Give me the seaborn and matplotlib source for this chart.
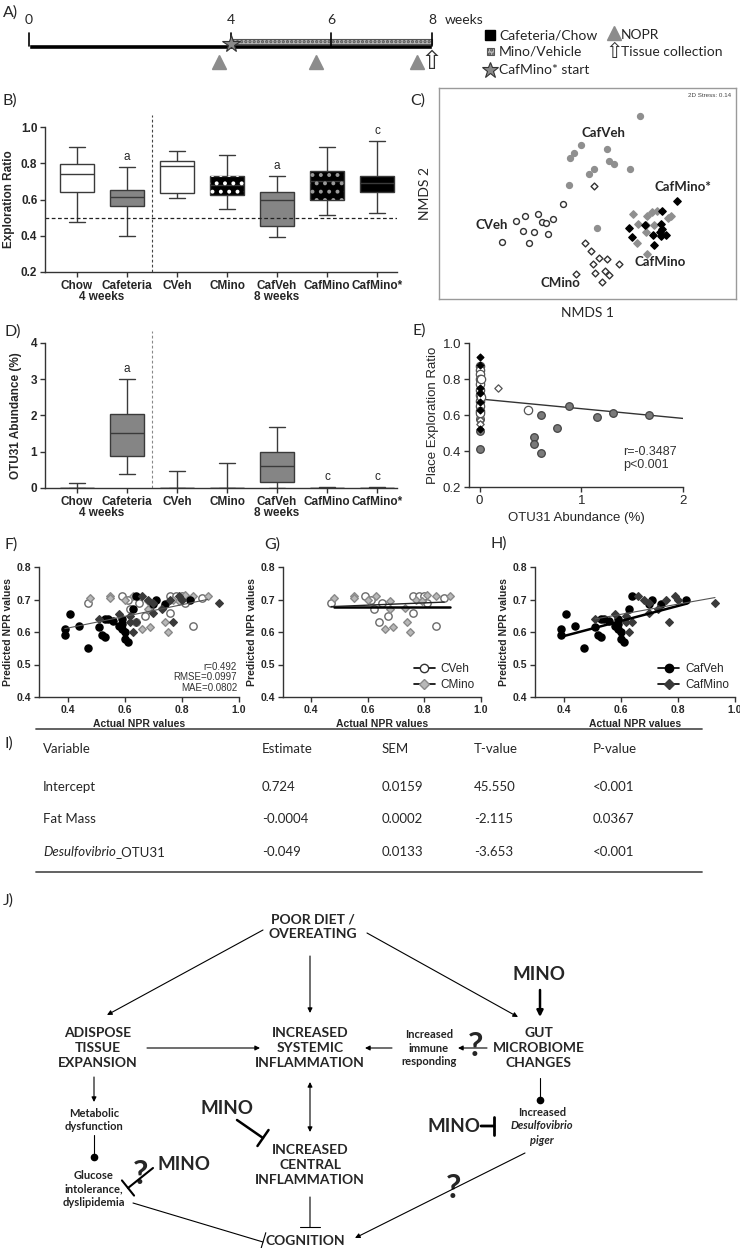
import numpy as np
import pandas as pd
import matplotlib
matplotlib.use("Agg")
import matplotlib.pyplot as plt
import seaborn as sns
from matplotlib.patches import PathPatch, Rectangle
from matplotlib.lines import Line2D
from matplotlib.patches import ArrowStyle

# ======================= DATA =======================
# A) study timeline (weeks)
week_ticks = [0, 4, 6, 8]
nopr_weeks = [3.77, 5.70, 7.70]
collection_week = 8.0
cafmino_start_week = 4.0
diet_span = [0, 8]
drug_span = [4, 8]

# B) exploration ratio: five-number summaries (min, Q1, median, Q3, max)
groups = ["Chow", "Cafeteria", "CVeh", "CMino", "CafVeh", "CafMino", "CafMino*"]
period_labels = ["4 weeks", "8 weeks"]
period_pos = [0.5, 4.0]
expl_min = [0.474, 0.400, 0.608, 0.549, 0.393, 0.513, 0.526]
expl_q1 = [0.641, 0.562, 0.636, 0.627, 0.456, 0.595, 0.641]
expl_med = [0.741, 0.614, 0.787, 0.680, 0.599, 0.700, 0.690]
expl_q3 = [0.796, 0.652, 0.814, 0.731, 0.641, 0.759, 0.731]
expl_max = [0.888, 0.779, 0.866, 0.847, 0.728, 0.888, 0.921]
expl_sig = ["", "a", "", "", "a", "", "c"]
chance_level = 0.5

# D) OTU31 abundance (%) five-number summaries
otu_min = [0.0, 0.38, 0.0, 0.0, 0.0, 0.0, 0.0]
otu_q1 = [0.0, 0.87, 0.0, 0.0, 0.16, 0.0, 0.0]
otu_med = [0.0, 1.51, 0.0, 0.0, 0.62, 0.0, 0.0]
otu_q3 = [0.01, 2.04, 0.01, 0.01, 1.00, 0.005, 0.005]
otu_max = [0.15, 3.00, 0.48, 0.70, 1.67, 0.02, 0.02]
otu_sig = ["", "a", "", "", "", "c", "c"]

# C) NMDS ordination
cveh_n1 = [-0.200, -0.325, -0.392, -0.437, -0.307, -0.288, -0.253, -0.400, -0.348, -0.277, -0.508, -0.373]
cveh_n2 = [0.080, 0.028, 0.022, -0.005, -0.012, -0.013, 0.005, -0.053, -0.060, -0.072, -0.108, -0.115]
cmino_n1 = [-0.047, -0.092, -0.062, -0.023, 0.020, -0.052, 0.078, -0.138, -0.043, 0.010, 0.030, -0.005]
cmino_n2 = [0.172, -0.117, -0.155, -0.192, -0.193, -0.222, -0.222, -0.268, -0.267, -0.257, -0.273, -0.312]
cafveh_n1 = [0.183, -0.112, -0.147, -0.168, 0.017, 0.028, 0.055, 0.132, -0.047, -0.070, -0.173, -0.030]
cafveh_n2 = [0.520, 0.377, 0.337, 0.312, 0.357, 0.293, 0.280, 0.253, 0.257, 0.232, 0.177, -0.040]
cafmino_n1 = [0.150, 0.217, 0.245, 0.268, 0.338, 0.322, 0.172, 0.215, 0.255, 0.213, 0.168, 0.218]
cafmino_n2 = [0.028, 0.020, 0.040, 0.047, 0.020, 0.012, -0.022, -0.025, -0.025, -0.062, -0.113, -0.170]
cafminos_n1 = [0.367, 0.292, 0.127, 0.210, 0.287, 0.295, 0.248, 0.290, 0.313, 0.143, 0.253, 0.283]
cafminos_n2 = [0.095, 0.045, -0.042, -0.025, -0.020, -0.045, -0.075, -0.082, -0.075, -0.083, -0.125, -0.058]
nmds_stress = 0.14

# E) OTU31 abundance vs place exploration ratio
e_cveh_x = [0, 0, 0, 0, 0, 0, 0, 0, 0, 0, 0, 0.016, 0.016, 0.475]
e_cveh_y = [0.87, 0.85, 0.83, 0.80, 0.77, 0.74, 0.71, 0.68, 0.65, 0.62, 0.61, 0.80, 0.70, 0.63]
e_cmino_x = [0, 0, 0, 0, 0, 0, 0, 0, 0.18]
e_cmino_y = [0.82, 0.79, 0.72, 0.69, 0.66, 0.60, 0.57, 0.55, 0.75]
e_cafveh_x = [0, 0, 0, 0.60, 0.534, 0.534, 0.60, 0.76, 0.875, 1.15, 1.31, 1.67]
e_cafveh_y = [0.41, 0.51, 0.58, 0.60, 0.48, 0.44, 0.39, 0.53, 0.65, 0.59, 0.61, 0.60]
e_cafmino_x = [0, 0, 0, 0]
e_cafmino_y = [0.78, 0.70, 0.64, 0.59]
e_cafminos_x = [0, 0, 0, 0, 0, 0, 0]
e_cafminos_y = [0.92, 0.88, 0.75, 0.72, 0.67, 0.63, 0.52]
e_fit_intercept = 0.689
e_fit_slope = -0.054
e_fit_range = [0.0, 2.0]
e_r = -0.3487

# F-H) actual vs predicted NPR values
npr_cafveh_act = [0.39, 0.39, 0.41, 0.44, 0.47, 0.51, 0.53, 0.54, 0.52, 0.53, 0.56, 0.58, 0.59, 0.59, 0.59, 0.60, 0.60, 0.61, 0.63, 0.64, 0.70, 0.71, 0.74, 0.83]
npr_cafveh_pred = [0.61, 0.59, 0.655, 0.62, 0.55, 0.615, 0.64, 0.64, 0.59, 0.585, 0.635, 0.62, 0.64, 0.625, 0.61, 0.60, 0.58, 0.57, 0.67, 0.71, 0.685, 0.70, 0.685, 0.70]
npr_cafmino_act = [0.51, 0.58, 0.62, 0.62, 0.63, 0.64, 0.66, 0.68, 0.70, 0.70, 0.73, 0.76, 0.77, 0.79, 0.80, 0.93]
npr_cafmino_pred = [0.64, 0.655, 0.65, 0.63, 0.60, 0.63, 0.71, 0.70, 0.66, 0.69, 0.67, 0.70, 0.63, 0.71, 0.70, 0.69]
npr_cveh_act = [0.47, 0.59, 0.61, 0.62, 0.65, 0.64, 0.67, 0.76, 0.76, 0.78, 0.80, 0.81, 0.84, 0.87]
npr_cveh_pred = [0.69, 0.71, 0.70, 0.67, 0.69, 0.63, 0.65, 0.66, 0.71, 0.71, 0.71, 0.69, 0.62, 0.705]
npr_cmino_act = [0.48, 0.55, 0.55, 0.60, 0.63, 0.66, 0.68, 0.68, 0.69, 0.73, 0.74, 0.75, 0.77, 0.79, 0.81, 0.84, 0.89]
npr_cmino_pred = [0.705, 0.71, 0.705, 0.70, 0.71, 0.61, 0.695, 0.67, 0.615, 0.675, 0.63, 0.60, 0.70, 0.695, 0.715, 0.71, 0.71]
fit_all = [0.54, 0.18, 0.39, 0.89]        # intercept, slope, x from, x to
fit_cveh = [0.6616, 0.035, 0.47, 0.87]
fit_cmino = [0.678, 0.0, 0.48, 0.89]
fit_cafveh = [0.4945, 0.232, 0.39, 0.83]
fit_cafmino = [0.56, 0.157, 0.51, 0.93]
npr_r, npr_rmse, npr_mae = 0.492, 0.0997, 0.0802

# I) regression table
table_cols = ["Variable", "Estimate", "SEM", "T-value", "P-value"]
table_vars = ["Intercept", "Fat Mass", "Desulfovibrio_OTU31"]
table_est = ["0.724", "-0.0004", "-0.049"]
table_sem = ["0.0159", "0.0002", "0.0133"]
table_t = ["45.550", "-2.115", "-3.653"]
table_p = ["<0.001", "0.0367", "<0.001"]

# ======================= STYLE =======================
sns.set_theme(style="ticks")
ARIAL = ["Liberation Sans", "DejaVu Sans"]
CALI = ["Lato", "DejaVu Sans"]
plt.rcParams["font.family"] = ARIAL
plt.rcParams["hatch.linewidth"] = 1.6
plt.rcParams["axes.linewidth"] = 1.0
plt.rcParams["axes.edgecolor"] = "#333333"

W, H = 740, 1248
fig = plt.figure(figsize=(W / 100, H / 100), dpi=100)
fig.patch.set_facecolor("white")


def axes_px(x0, y0, x1, y1):
    return fig.add_axes([x0 / W, 1 - y1 / H, (x1 - x0) / W, (y1 - y0) / H])


def style_axes(ax, size=8, bold=True):
    sns.despine(ax=ax)
    ax.tick_params(direction="out", length=3.5, width=1, color="#333333",
                   labelsize=size, pad=2)
    for lab in ax.get_xticklabels() + ax.get_yticklabels():
        lab.set_fontweight("bold" if bold else "normal")


box_fill = {"Chow": "white", "Cafeteria": "#858585", "CVeh": "white", "CMino": "black",
            "CafVeh": "#858585", "CafMino": "black", "CafMino*": "black"}
dot_hatch = {"CMino": "white", "CafMino": "#9a9a9a"}


def draw_box(ax, mins, q1s, meds, q3s, maxs, hatch=True):
    df = pd.DataFrame({
        "group": np.repeat(groups, 5),
        "value": np.column_stack([mins, q1s, meds, q3s, maxs]).ravel(),
    })
    sns.boxplot(data=df, x="group", y="value", hue="group", order=groups, hue_order=groups,
                palette=box_fill, saturation=1, whis=(0, 100), width=0.67,
                linewidth=1.0, linecolor="#3a3a3a", fliersize=0, legend=False, ax=ax)
    if hatch:
        for g, p in zip(groups, list(ax.patches)):
            if g in dot_hatch:
                ovp = PathPatch(p.get_path(), transform=p.get_transform(), facecolor="none",
                                edgecolor=dot_hatch[g], hatch="..", linewidth=0, zorder=p.get_zorder() + 0.1)
                ax.add_patch(ovp)
    ax.set_xlim(-0.64, 6.4)
    ax.set_xlabel("")
    ax.axvline(1.5, ymin=0, ymax=1.08, clip_on=False, color="#444444", lw=0.8, ls=(0, (2.5, 2)))


# ---------------- A) timeline ----------------
axA = axes_px(0, 0, 740, 90)
axA.set_xlim(-29 / 50.375, (740 - 29) / 50.375)
axA.set_ylim(90, 0)
axA.axis("off")
axA.barh(46.5, diet_span[1] - diet_span[0], left=diet_span[0], height=4.5, color="black")
axA.barh(41.5, drug_span[1] - drug_span[0], left=drug_span[0], height=5.0,
         facecolor="#b9b9b9", edgecolor="#555555", hatch="....", linewidth=0.8)
for w in week_ticks:
    axA.plot([w, w], [33, 46], color="black", lw=1.2)
    axA.text(w, 20, str(w), ha="center", va="center", fontsize=10, family=CALI)
axA.text(week_ticks[-1] + 0.25, 20, "weeks", ha="left", va="center", fontsize=10, family=CALI)
axA.plot([cafmino_start_week], [44], marker="*", ms=13, mfc="#8a8a8a", mec="#333333", mew=0.8)
axA.plot(nopr_weeks, [62] * len(nopr_weeks), ls="none", marker="^", ms=10, color="#8c8c8c")
axA.text(collection_week, 62, "\u21e7", ha="center", va="center", fontsize=19,
         family=["DejaVu Sans"], color="#333333")

# ---------------- overlay (labels, legend, table, diagram) ----------------
ov = axes_px(0, 0, 740, 1248)
ov.set_xlim(0, 740)
ov.set_ylim(1248, 0)
ov.axis("off")

# A legend
ov.plot([490], [35], marker="s", ms=7, color="black")
ov.text(499, 35, "Cafeteria/Chow", va="center", fontsize=10, family=CALI)
ov.add_patch(Rectangle((486.5, 48), 7, 7, facecolor="#b9b9b9", edgecolor="#555555",
                       hatch="....", linewidth=0.8))
ov.text(499, 52, "Mino/Vehicle", va="center", fontsize=10, family=CALI)
ov.plot([490], [70], marker="*", ms=12, mfc="#8a8a8a", mec="#333333", mew=0.8)
ov.text(499, 70, "CafMino* start", va="center", fontsize=10, family=CALI)
ov.plot([614], [33], marker="^", ms=10, color="#8c8c8c")
ov.text(621, 35, "NOPR", va="center", fontsize=10, family=CALI)
ov.text(614, 52, "\u21e7", ha="center", va="center", fontsize=15, family=["DejaVu Sans"], color="#333333")
ov.text(621, 52, "Tissue collection", va="center", fontsize=10, family=CALI)

# panel letters
for lab, x, y in [("A)", 3, 13), ("B)", 3, 101), ("C)", 410, 101), ("D)", 4, 332),
                  ("E)", 412, 331), ("F)", 4, 545), ("G)", 264, 545), ("H)", 490, 544),
                  ("I)", 4, 744), ("J)", 3, 901)]:
    ov.text(x, y, lab, ha="left", va="center", fontsize=11.5, family=CALI)

# ---------------- B) exploration ratio ----------------
axB = axes_px(45, 127, 397, 272)
draw_box(axB, expl_min, expl_q1, expl_med, expl_q3, expl_max)
axB.axhline(chance_level, color="#222222", lw=0.9, ls=(0, (3, 2)))
axB.set_ylim(0.2, 1.0)
axB.set_yticks([0.2, 0.4, 0.6, 0.8, 1.0])
axB.set_yticklabels(["0.2", "0.4", "0.6", "0.8", "1.0"])
axB.set_ylabel("Exploration Ratio", fontsize=8.5, fontweight="bold", labelpad=4)
style_axes(axB, size=8.5)
for i, s in enumerate(expl_sig):
    if s:
        axB.text(i, expl_max[i] + 0.057, s, ha="center", va="center", fontsize=8.5)
for lab, pos in zip(period_labels, period_pos):
    axB.text(pos, -0.17, lab, transform=axB.get_xaxis_transform(), ha="center", va="center",
             fontsize=8.5, fontweight="bold")

# ---------------- D) OTU31 abundance ----------------
axD = axes_px(45, 343, 397, 488)
draw_box(axD, otu_min, otu_q1, otu_med, otu_q3, otu_max, hatch=False)
axD.lines[-1].set_color("#888888")
axD.set_ylim(0, 4)
axD.set_yticks([0, 1, 2, 3, 4])
axD.set_ylabel("OTU31 Abundance (%)", fontsize=8.5, fontweight="bold", labelpad=6)
style_axes(axD, size=8.5)
for i, s in enumerate(otu_sig):
    if s:
        axD.text(i, otu_max[i] + 0.28, s, ha="center", va="center", fontsize=8.5)
for lab, pos in zip(period_labels, period_pos):
    axD.text(pos, -0.175, lab, transform=axD.get_xaxis_transform(), ha="center", va="center",
             fontsize=8.5, fontweight="bold")

# ---------------- C) NMDS ----------------
axC = axes_px(439, 88, 736, 299)
nmds_sets = [
    (cveh_n1, cveh_n2, "o", "white", "#333333", 18),
    (cmino_n1, cmino_n2, "D", "white", "#333333", 12),
    (cafveh_n1, cafveh_n2, "o", "#8f8f8f", "#8f8f8f", 18),
    (cafmino_n1, cafmino_n2, "D", "#8f8f8f", "#8f8f8f", 14),
    (cafminos_n1, cafminos_n2, "D", "black", "black", 14),
]
for xs, ys, m, fc, ec, s in nmds_sets:
    sns.scatterplot(x=xs, y=ys, marker=m, color=fc, edgecolor=ec, linewidth=1.0, s=s, ax=axC, zorder=3)
axC.set_xlim(-0.822, 0.663)
axC.set_ylim(-0.395, 0.66)
axC.set_xticks([])
axC.set_yticks([])
for sp in axC.spines.values():
    sp.set_color("#9a9a9a")
    sp.set_linewidth(1.0)
for lab, x, y in [("CafVeh", 0.0, 0.433), ("CafMino*", 0.40, 0.167), ("CVeh", -0.558, -0.025),
                  ("CafMino", 0.283, -0.208), ("CMino", -0.217, -0.317)]:
    axC.text(x, y, lab, ha="center", va="center", fontsize=9.5, fontweight="bold", family=CALI)
axC.text(0.985, 0.975, f"2D Stress: {nmds_stress:.2f}", transform=axC.transAxes, ha="right",
         va="top", fontsize=4.5, color="#444444")
axC.set_xlabel("NMDS 1", fontsize=10, family=CALI, labelpad=6)
axC.set_ylabel("NMDS 2", fontsize=10, family=CALI, labelpad=6)

# ---------------- E) correlation ----------------
axE = axes_px(469, 343, 683, 487)
e_sets = [
    (e_cafveh_x, e_cafveh_y, "o", "#7a7a7a", "#444444", 30),
    (e_cafmino_x, e_cafmino_y, "D", "#9a9a9a", "#777777", 12),
    (e_cmino_x, e_cmino_y, "D", "white", "#555555", 14),
    (e_cveh_x, e_cveh_y, "o", "white", "#555555", 36),
    (e_cafminos_x, e_cafminos_y, "D", "black", "black", 12),
]
for xs, ys, m, fc, ec, s in e_sets:
    sns.scatterplot(x=xs, y=ys, marker=m, color=fc, edgecolor=ec, linewidth=0.9, s=s, ax=axE,
                    zorder=3, clip_on=False)
ex = np.array(e_fit_range)
axE.plot(ex, e_fit_intercept + e_fit_slope * ex, color="#333333", lw=1.0)
axE.set_xlim(-0.105, 2.0)
axE.set_ylim(0.2, 1.0)
axE.set_xticks([0, 1, 2])
axE.set_yticks([0.2, 0.4, 0.6, 0.8, 1.0])
axE.set_yticklabels(["0.2", "0.4", "0.6", "0.8", "1.0"])
style_axes(axE, size=9.5, bold=False)
axE.set_xlabel("OTU31 Abundance (%)", fontsize=9.5, labelpad=4)
axE.set_ylabel("Place Exploration Ratio", fontsize=9.5, labelpad=3)
axE.text(0.72, 0.285, f"r={e_r}\np<0.001", transform=axE.transAxes, ha="left", va="top",
         fontsize=9, color="#333333", linespacing=1.15)

# ---------------- F-H) NPR predictions ----------------
npr_style = {
    "CVeh": dict(marker="o", color="white", edgecolor="#6a6a6a", s=28),
    "CMino": dict(marker="D", color="#b8b8b8", edgecolor="#8a8a8a", s=15),
    "CafVeh": dict(marker="o", color="black", edgecolor="black", s=26),
    "CafMino": dict(marker="D", color="#3a3a3a", edgecolor="#3a3a3a", s=15),
}
npr_data = {
    "CVeh": (npr_cveh_act, npr_cveh_pred),
    "CMino": (npr_cmino_act, npr_cmino_pred),
    "CafVeh": (npr_cafveh_act, npr_cafveh_pred),
    "CafMino": (npr_cafmino_act, npr_cafmino_pred),
}


def npr_axes(x0, x1, names, fits):
    ax = axes_px(x0, 567, x1, 697)
    for n in names:
        xs, ys = npr_data[n]
        sns.scatterplot(x=xs, y=ys, linewidth=1.0, ax=ax, zorder=3, **npr_style[n])
    for (b0, b1, xa, xb), lw, col in fits:
        xx = np.array([xa, xb])
        ax.plot(xx, b0 + b1 * xx, color=col, lw=lw, zorder=4)
    ax.set_xlim(0.3, 1.0)
    ax.set_ylim(0.4, 0.8)
    ax.set_xticks([0.4, 0.6, 0.8, 1.0])
    ax.set_xticklabels(["0.4", "0.6", "0.8", "1.0"])
    ax.set_yticks([0.4, 0.5, 0.6, 0.7, 0.8])
    ax.set_yticklabels(["0.4", "0.5", "0.6", "0.7", "0.8"])
    style_axes(ax, size=7.5)
    ax.set_xlabel("Actual NPR values", fontsize=7.5, fontweight="bold", labelpad=3)
    ax.set_ylabel("Predicted NPR values", fontsize=7.5, fontweight="bold", labelpad=3)
    return ax


axF = npr_axes(39, 239, ["CVeh", "CMino", "CafVeh", "CafMino"], [(fit_all, 0.8, "#555555")])
axF.text(0.99, 0.03, f"r={npr_r}\nRMSE={npr_rmse}\nMAE={npr_mae}", transform=axF.transAxes,
         ha="right", va="bottom", fontsize=7, linespacing=1.1, color="#333333")
axG = npr_axes(283, 481, ["CVeh", "CMino"], [(fit_cmino, 1.8, "black"), (fit_cveh, 1.0, "#222222")])
axH = npr_axes(535, 735, ["CafVeh", "CafMino"], [(fit_cafveh, 1.8, "black"), (fit_cafmino, 0.8, "#555555")])


def npr_legend(ax, names):
    hs = []
    for n in names:
        st = npr_style[n]
        hs.append(Line2D([], [], color="black", lw=1.2, marker=st["marker"],
                         mfc=st["color"], mec="#333333" if st["color"] == "white" else st["edgecolor"],
                         ms=6 if st["marker"] == "o" else 5))
    leg = ax.legend(hs, names, loc="lower right", frameon=False, fontsize=8.5, handlelength=1.8,
                    labelspacing=0.35, borderaxespad=0.1, handletextpad=0.5)
    return leg


npr_legend(axG, ["CVeh", "CMino"])
npr_legend(axH, ["CafVeh", "CafMino"])

# ---------------- I) table ----------------
col_x = [43, 262, 382, 474, 593]
ov.plot([36, 702], [729, 729], color="#555555", lw=1.3)
ov.plot([36, 702], [872, 872], color="#555555", lw=1.3)
for x, c in zip(col_x, table_cols):
    ov.text(x, 749, c, ha="left", va="center", fontsize=9.5, family=CALI)
row_y = [787, 819, 852]
fig.canvas.draw()
rend = fig.canvas.get_renderer()
for i, y in enumerate(row_y):
    name = table_vars[i]
    if name.startswith("Desulfovibrio"):
        t = ov.text(col_x[0], y, "Desulfovibrio", ha="left", va="center", fontsize=9.5,
                    family=CALI, style="italic")
        bb = t.get_window_extent(renderer=rend)
        ov.text(col_x[0] + bb.width, y, name[len("Desulfovibrio"):], ha="left", va="center",
                fontsize=9.5, family=CALI)
    else:
        ov.text(col_x[0], y, name, ha="left", va="center", fontsize=9.5, family=CALI)
    for x, v in zip(col_x[1:], [table_est[i], table_sem[i], table_t[i], table_p[i]]):
        ov.text(x, y, v, ha="left", va="center", fontsize=9.5, family=CALI)

# ---------------- J) diagram ----------------
big_nodes = [("POOR DIET /\nOVEREATING", 313, 927), ("ADISPOSE\nTISSUE\nEXPANSION", 98, 1048),
             ("INCREASED\nSYSTEMIC\nINFLAMMATION", 310, 1048),
             ("INCREASED\nCENTRAL\nINFLAMMATION", 310, 1165),
             ("GUT\nMICROBIOME\nCHANGES", 539, 1048), ("COGNITION", 305, 1241)]
for t, x, y in big_nodes:
    ov.text(x, y, t, ha="center", va="center", fontsize=10, fontweight="bold", family=CALI,
            linespacing=1.3)
small_nodes = [("Metabolic\ndysfunction", 94, 1120), ("Glucose\nintolerance,\ndyslipidemia", 94, 1189),
               ("Increased\nimmune\nresponding", 429, 1048)]
for t, x, y in small_nodes:
    ov.text(x, y, t, ha="center", va="center", fontsize=8, fontweight="bold", family=CALI,
            linespacing=1.25, color="#222222")
ov.text(542, 1112, "Increased", ha="center", va="center", fontsize=8, fontweight="bold", family=CALI)
ov.text(542, 1126, "Desulfovibrio", ha="center", va="center", fontsize=8, fontweight="bold",
        style="italic", family=CALI)
ov.text(542, 1141, "piger", ha="center", va="center", fontsize=8, fontweight="bold",
        style="italic", family=CALI)
for x, y in [(227, 1109), (184, 1165), (539, 975), (454, 1126)]:
    ov.text(x, y, "MINO", ha="center", va="center", fontsize=13.5, fontweight="bold", family=CALI)
for x, y in [(140, 1174), (475, 1046), (453, 1189)]:
    ov.text(x, y, "?", ha="center", va="center", fontsize=24, fontweight="bold", family=CALI)


def edge(x0, y0, x1, y1, style="-|>", lw=0.8, ms=7, **kw):
    ov.annotate("", xy=(x1, y1), xytext=(x0, y0),
                arrowprops=dict(arrowstyle=style, lw=lw, color="black", shrinkA=0, shrinkB=0,
                                mutation_scale=ms, **kw))


for seg in [(263, 930, 107, 1015), (310, 956, 310, 1013), (367, 933, 518, 1017),
            (147, 1048, 260, 1048), (392, 1048, 365, 1048), (487, 1048, 458, 1048),
            (94, 1077, 94, 1102), (525, 1153, 355, 1238)]:
    edge(*seg)
edge(540, 990, 540, 1017, lw=1.8, ms=9)
edge(310, 1082, 310, 1132, style="<|-|>")
tbar = ArrowStyle("-[", widthB=0.7, lengthB=0.0)
edge(237, 1120, 263, 1138, style=tbar, lw=1.8, ms=10)
edge(153, 1168, 128, 1188, style=tbar, lw=1.5, ms=10)
edge(133, 1203, 263, 1242, style=tbar, lw=0.8, ms=10)
edge(310, 1197, 310, 1227, style=tbar, lw=0.8, ms=10)
edge(481, 1126, 494, 1126, style=tbar, lw=2.0, ms=9)
for x0, y0, x1, y1 in [(94, 1135, 94, 1157), (540, 1078, 540, 1100)]:
    ov.plot([x0, x1], [y0, y1], color="black", lw=0.8)
    ov.plot([x1], [y1], marker="o", ms=4.5, color="black")

fig.savefig("out.png", dpi=100, facecolor="white")
